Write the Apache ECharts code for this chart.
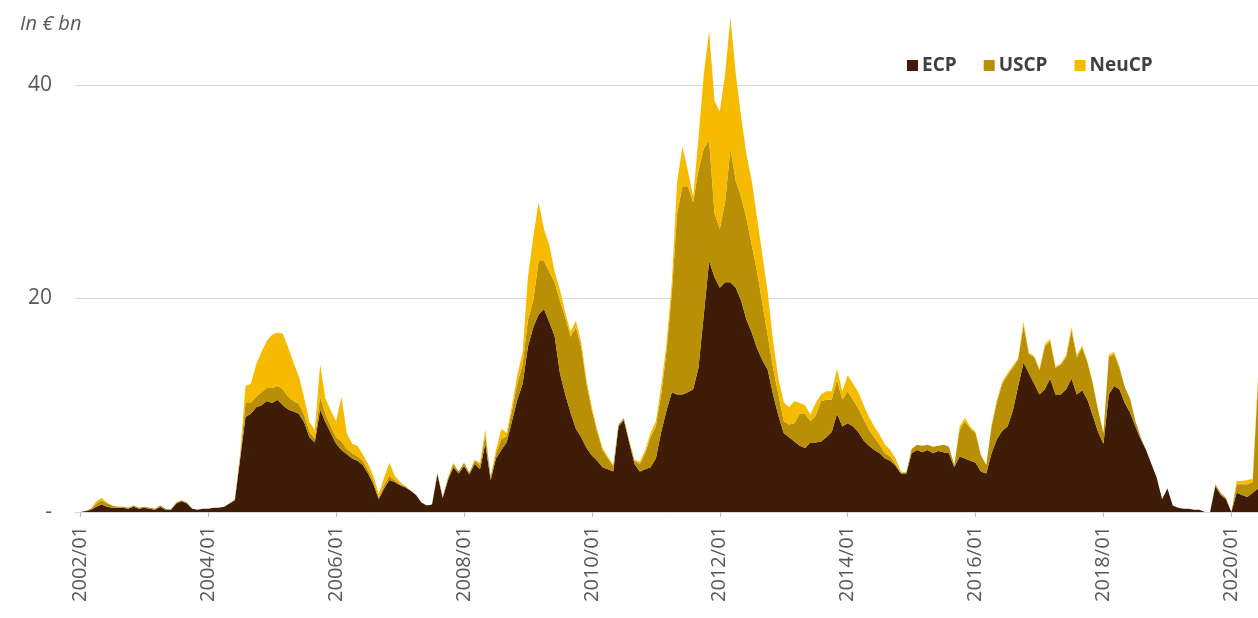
<!DOCTYPE html>
<html>
<head>
<meta charset="utf-8">
<script src="https://cdn.jsdelivr.net/npm/echarts@6/dist/echarts.min.js"></script>
<style>
  html, body { margin: 0; padding: 0; background: #ffffff; }
  #chart { width: 1258px; height: 618px; }
</style>
</head>
<body>
<div id="chart"></div>
<script>
// Monthly outstanding amounts, in EUR bn, from 2001/12 to 2020/06.
// Each row below is one calendar year (the first value is 2001/12).
const ecp = [
  0,
  0, 0.1, 0.2, 0.5, 0.7, 0.5, 0.4, 0.4, 0.4, 0.3, 0.5, 0.3,
  0.4, 0.3, 0.2, 0.5, 0.2, 0.2, 0.8, 1.0, 0.8, 0.3, 0.2, 0.3,
  0.3, 0.4, 0.4, 0.5, 0.8, 1.1, 5.0, 8.9, 9.2, 9.8, 10.0, 10.4,
  10.2, 10.5, 10.0, 9.6, 9.4, 9.2, 8.4, 7.0, 6.5, 9.6, 8.4, 7.4,
  6.4, 5.8, 5.4, 5.0, 4.8, 4.4, 3.6, 2.6, 1.2, 2.2, 3.0, 2.8,
  2.5, 2.3, 2.0, 1.6, 0.9, 0.6, 0.7, 3.5, 1.3, 3.0, 4.2, 3.6,
  4.3, 3.5, 4.5, 4.0, 6.4, 3.0, 5.0, 5.8, 6.5, 8.5, 10.5, 12.0,
  15.5, 17.3, 18.5, 19.0, 17.8, 16.5, 13.0, 11.0, 9.3, 7.8, 7.0, 6.0,
  5.3, 4.8, 4.2, 4.0, 3.8, 8.0, 8.6, 6.5, 4.5, 3.8, 4.0, 4.2,
  5.0, 7.5, 9.5, 11.2, 11.0, 11.0, 11.2, 11.5, 13.5, 18.5, 23.5, 22.0,
  21.0, 21.5, 21.5, 21.0, 19.8, 18.0, 16.8, 15.3, 14.2, 13.3, 11.0, 9.0,
  7.4, 7.0, 6.6, 6.2, 6.0, 6.5, 6.5, 6.6, 7.0, 7.5, 9.2, 8.0,
  8.3, 8.0, 7.5, 6.7, 6.2, 5.8, 5.5, 5.0, 4.8, 4.3, 3.6, 3.6,
  5.5, 5.8, 5.6, 5.8, 5.5, 5.7, 5.6, 5.5, 4.2, 5.2, 5.0, 4.8,
  4.6, 3.8, 3.6, 5.5, 6.8, 7.6, 8.0, 9.5, 11.8, 14.0, 13.0, 12.0,
  11.0, 11.5, 12.5, 11.0, 11.0, 11.5, 12.5, 11.0, 11.4, 10.5, 9.0, 7.5,
  6.4, 11.0, 11.8, 11.5, 10.2, 9.3, 8.0, 6.8, 5.8, 4.5, 3.2, 1.2,
  2.2, 0.6, 0.4, 0.3, 0.3, 0.2, 0.2, 0, 0, 2.4, 1.6, 1.2,
  0, 1.8, 1.6, 1.4, 1.8, 2.2
];

const uscp = [
  0,
  0, 0, 0.1, 0.3, 0.4, 0.3, 0.2, 0.1, 0.1, 0.1, 0.1, 0.1,
  0.1, 0.1, 0.1, 0.1, 0.1, 0, 0.1, 0.1, 0.1, 0, 0, 0,
  0, 0, 0, 0, 0, 0.1, 0.3, 1.3, 1.0, 1.0, 1.2, 1.2,
  1.4, 1.3, 1.5, 1.2, 1.0, 0.9, 0.7, 0.5, 0.4, 1.2, 0.8, 0.6,
  0.6, 0.8, 0.5, 0.5, 0.4, 0.4, 0.3, 0.3, 0.2, 0.3, 0.4, 0.2,
  0.1, 0.1, 0, 0, 0, 0, 0, 0.2, 0.1, 0.2, 0.3, 0.2,
  0.3, 0.2, 0.3, 0.4, 0.8, 0.3, 0.5, 1.0, 0.6, 1.0, 1.5, 1.8,
  2.5, 2.5, 5.0, 4.5, 4.7, 5.0, 6.8, 7.2, 7.1, 9.5, 8.4, 6.0,
  4.2, 2.7, 1.6, 1.0, 0.5, 0.2, 0.2, 0.2, 0.3, 0.7, 1.5, 2.8,
  3.0, 3.5, 5.5, 9.3, 17.0, 19.5, 19.3, 17.5, 18.5, 15.5, 11.3, 6.0,
  5.5, 7.5, 12.5, 10.0, 9.7, 9.5, 8.2, 7.2, 5.3, 3.2, 2.5, 2.0,
  1.1, 1.2, 1.7, 3.0, 3.2, 2.0, 2.5, 3.8, 3.5, 3.0, 3.2, 2.5,
  3.0, 2.5, 2.2, 2.0, 1.5, 1.2, 0.8, 0.5, 0.4, 0.2, 0.1, 0.1,
  0.4, 0.5, 0.6, 0.5, 0.6, 0.5, 0.7, 0.6, 0.2, 2.5, 3.5, 3.0,
  2.8, 1.5, 0.8, 2.5, 3.5, 4.4, 4.8, 4.0, 2.5, 3.5, 1.8, 2.5,
  2.3, 4.0, 3.5, 2.5, 2.8, 3.0, 4.5, 3.5, 4.0, 3.5, 3.0, 2.0,
  1.0, 3.5, 3.0, 2.0, 1.5, 1.3, 0.5, 0.2, 0, 0, 0, 0,
  0, 0, 0, 0, 0, 0, 0, 0, 0, 0.2, 0.2, 0.1,
  0, 0.8, 1.0, 1.2, 1.0, 10.0
];

const neucp = [
  0,
  0, 0, 0, 0.2, 0.2, 0.1, 0, 0, 0, 0, 0, 0,
  0, 0, 0, 0, 0, 0, 0, 0, 0, 0, 0, 0,
  0, 0, 0, 0, 0, 0, 0.2, 1.6, 1.8, 3.0, 3.8, 4.4,
  5.0, 5.0, 5.2, 4.6, 3.6, 2.6, 1.6, 0.9, 0.8, 3.0, 1.4, 1.5,
  1.5, 4.2, 1.5, 0.9, 1.0, 0.6, 0.6, 0.5, 0.3, 0.7, 1.2, 0.4,
  0.2, 0, 0, 0, 0, 0, 0, 0, 0, 0, 0.1, 0,
  0, 0, 0.1, 0.2, 0.5, 0, 0.3, 1.0, 0.3, 0.5, 0.8, 1.2,
  4.0, 6.0, 5.5, 3.0, 2.5, 1.0, 1.0, 0.5, 0.5, 0.6, 0.5, 0.3,
  0.3, 0.2, 0.2, 0.2, 0.1, 0, 0, 0, 0.1, 0.2, 0.3, 0.4,
  0.5, 0.8, 0.8, 1.0, 3.0, 3.7, 1.5, 0.5, 3.0, 7.0, 10.2, 10.5,
  11.0, 12.0, 12.3, 10.0, 7.5, 6.0, 6.0, 5.0, 4.5, 4.0, 2.5, 1.5,
  1.8, 1.6, 2.1, 1.0, 0.8, 0.6, 1.2, 0.6, 0.8, 0.8, 1.0, 0.8,
  1.5, 1.5, 1.5, 1.3, 1.2, 1.0, 0.9, 0.8, 0.6, 0.5, 0.1, 0,
  0, 0, 0, 0, 0, 0, 0, 0, 0, 0.3, 0.3, 0.2,
  0.1, 0.1, 0, 0.1, 0.2, 0.2, 0.2, 0.2, 0.1, 0.3, 0.1, 0.1,
  0.1, 0.2, 0.2, 0.1, 0.1, 0.2, 0.3, 0.2, 0.2, 0.1, 0.1, 0.1,
  0.1, 0.2, 0.2, 0.1, 0, 0, 0, 0, 0, 0, 0, 0,
  0, 0, 0, 0, 0, 0, 0, 0, 0, 0, 0, 0,
  0, 0.3, 0.3, 0.4, 0.3, 0.5
];

const seriesNames = ['ECP', 'USCP', 'NeuCP'];
const seriesColors = ['#3f1c07', '#b98f05', '#f6ba00'];
const yTicks = [0, 20, 40];

// Month categories "YYYY/MM" from 2001/12 to 2020/06
const months = ['2001/12'];
for (let y = 2002; y <= 2020; y++) {
  for (let m = 1; m <= 12; m++) {
    if (y === 2020 && m > 6) break;
    months.push(y + '/' + String(m).padStart(2, '0'));
  }
}

// Labels and ticks only on January of even years
const everyOtherJanuary = (idx, value) => {
  const v = String(value);
  return v.endsWith('/01') && parseInt(v.slice(0, 4), 10) % 2 === 0;
};

const textGrey = '#595959';
const font = '"Open Sans", "Noto Sans", sans-serif';

const chart = echarts.init(document.getElementById('chart'), null, { renderer: 'canvas' });

const option = {
  animation: false,
  backgroundColor: '#ffffff',
  title: {
    text: 'In € bn',
    left: 15,
    top: 9,
    textStyle: { fontFamily: font, fontStyle: 'italic', fontWeight: 'normal', fontSize: 20, color: textGrey }
  },
  legend: {
    data: seriesNames,
    left: 902,
    top: 51,
    icon: 'rect',
    itemWidth: 11,
    itemHeight: 11,
    itemGap: 27,
    textStyle: { fontFamily: font, fontWeight: 'bold', fontSize: 19, color: '#404040', padding: [0, 0, 0, -1] }
  },
  grid: { left: 75, right: 0, top: 10, bottom: 106, containLabel: false },
  xAxis: {
    type: 'category',
    data: months,
    boundaryGap: false,
    axisLine: { lineStyle: { color: '#d9d9d9', width: 1 } },
    axisTick: { show: true, interval: everyOtherJanuary, length: 5, lineStyle: { color: '#bfbfbf' } },
    axisLabel: {
      interval: everyOtherJanuary,
      rotate: 90,
      margin: 14,
      fontFamily: font,
      fontSize: 20,
      color: textGrey
    },
    splitLine: { show: false }
  },
  yAxis: {
    type: 'value',
    min: 0,
    max: 47,
    interval: 20,
    axisLine: { show: false },
    axisTick: { show: false },
    axisLabel: {
      showMaxLabel: false,
      margin: 23,
      fontFamily: font,
      fontSize: 21,
      color: textGrey,
      formatter: v => (yTicks.indexOf(v) === -1 ? '' : (v === 0 ? '-' : String(v)))
    },
    splitLine: { show: true, showMaxLine: false, showMinLine: false, lineStyle: { color: '#d9d9d9', width: 1 } }
  },
  series: [ecp, uscp, neucp].map((values, i) => ({
    name: seriesNames[i],
    type: 'line',
    stack: 'cp',
    data: values,
    showSymbol: false,
    symbol: 'none',
    lineStyle: { width: 0 },
    areaStyle: { color: seriesColors[i], opacity: 1 },
    itemStyle: { color: seriesColors[i] },
    emphasis: { disabled: true }
  }))
};

chart.setOption(option);
</script>
</body>
</html>
